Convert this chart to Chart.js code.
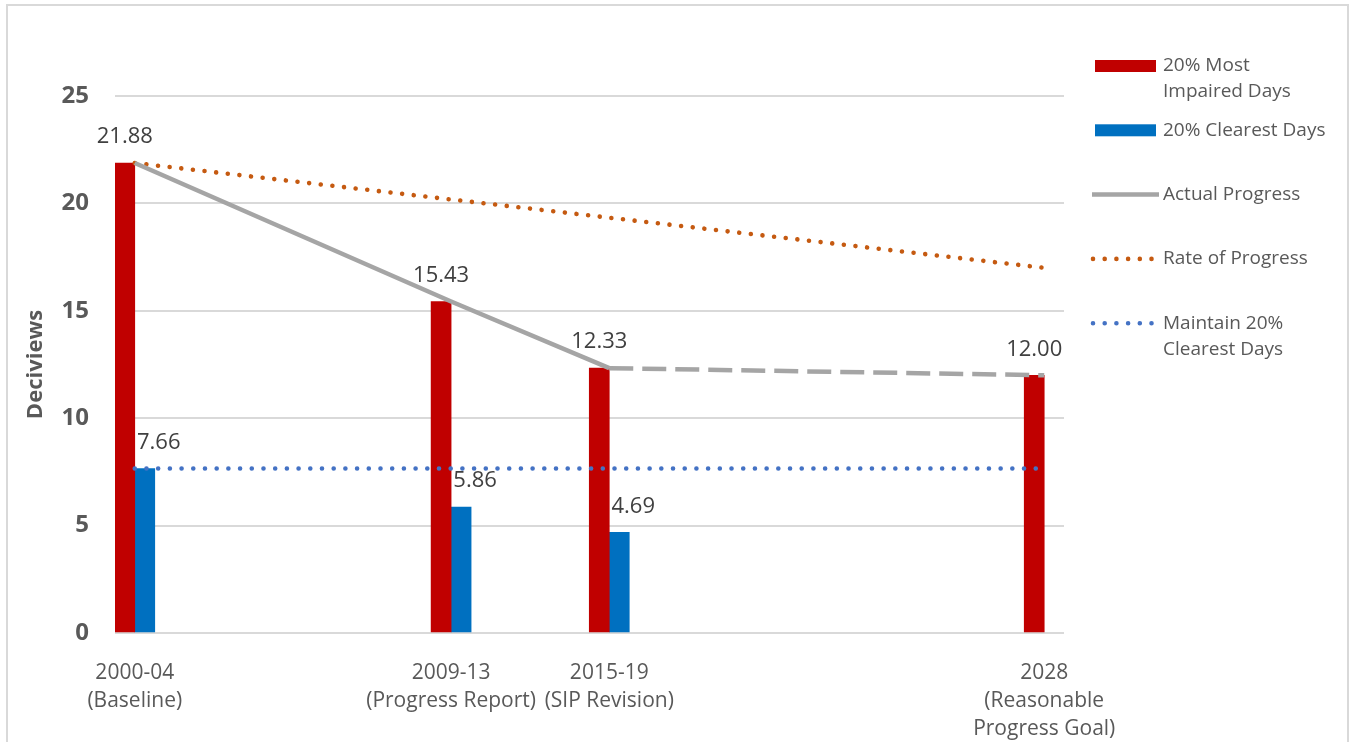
<!DOCTYPE html>
<html>
<head>
<meta charset="utf-8">
<title>Deciviews</title>
<script src="https://cdn.jsdelivr.net/npm/chart.js@4.4.1/dist/chart.umd.min.js"></script>
<style>
    html, body { margin: 0; padding: 0; background: #fff; overflow: hidden; }
    .frame {
        position: absolute;
        left: 6px; top: 4px;
        width: 1339px; height: 760px;
        border: 2px solid #d9d9d9;
        border-bottom: none;
    }
    #chart { position: absolute; left: 0; top: 0; }
</style>
</head>
<body>
<div class="frame"></div>
<canvas id="chart" width="1349" height="742"></canvas>
<script>
// periods on the date axis
const periodX = [2004, 2012, 2016, 2027]
const periodLabels = [
    ["2000-04", "(Baseline)"],
    ["2009-13", "(Progress Report)"],
    ["2015-19", "(SIP Revision)"],
    ["2028", "(Reasonable", "Progress Goal)"]
]

const mostImpaired = [21.88, 15.43, 12.33, 12.00]
const clearest = [7.66, 5.86, 4.69]
const actualProgress = [21.88, 15.43, 12.33, 12.00]

// glide path and clearest-days line run from baseline to 2028
const rateX = [2004, 2027]
const rateOfProgress = [21.88, 17.0]
const maintainClearest = [7.66, 7.66]

const yTicks = [0, 5, 10, 15, 20, 25]

const legendText = [
    ["20% Most", "Impaired Days"],
    ["20% Clearest Days"],
    ["Actual Progress"],
    ["Rate of Progress"],
    ["Maintain 20%", "Clearest Days"]
]

const FONT = "'Open Sans', sans-serif"
const TEXT = "#595959"

function points(xs, ys) {
    return ys.map((y, i) => ({ x: xs[i], y: y }))
}

// value labels above the bars
const valueLabels = {
    id: 'valueLabels',
    afterDatasetsDraw(chart) {
        const ctx = chart.ctx
        ctx.save()
        ctx.font = "22px " + FONT
        ctx.fillStyle = "#404040"
        ctx.textAlign = "center"
        ctx.textBaseline = "middle"
        chart.data.datasets.forEach((ds, i) => {
            if (ds.type !== 'bar') return
            const meta = chart.getDatasetMeta(i)
            meta.data.forEach((bar, j) => {
                const v = ds.data[j].y
                const cx = bar.x + (ds.labelShift || 0)
                ctx.fillText(v.toFixed(2), cx, bar.y - 26)
            })
        })
        ctx.restore()
    }
}

// legend on the right, one entry per dataset
const sideLegend = {
    id: 'sideLegend',
    afterDraw(chart) {
        const ctx = chart.ctx
        const x0 = 1092, textX = 1163, y0 = 66, step = 64.3, lineH = 26
        ctx.save()
        ctx.font = "19px " + FONT
        ctx.textBaseline = "middle"
        ctx.textAlign = "left"
        chart.data.datasets.forEach((ds, i) => {
            const cy = y0 + i * step
            if (ds.type === 'bar') {
                ctx.fillStyle = ds.backgroundColor
                ctx.fillRect(x0 + 3, cy - 6, 61, 12)
            } else {
                ctx.beginPath()
                ctx.strokeStyle = ds.borderColor
                ctx.lineWidth = ds.borderWidth
                if (ds.borderDash) {
                    ctx.setLineDash(ds.borderDash)
                    ctx.lineCap = "round"
                    ctx.moveTo(x0 + 1, cy)
                    ctx.lineTo(x0 + 64, cy)
                } else {
                    ctx.setLineDash([])
                    ctx.lineCap = "butt"
                    ctx.moveTo(x0, cy)
                    ctx.lineTo(x0 + 67, cy)
                }
                ctx.stroke()
            }
            ctx.fillStyle = TEXT
            legendText[i].forEach((t, k) => ctx.fillText(t, textX, cy + k * lineH))
        })
        ctx.restore()
    }
}

const dotted = [0.001, 11.7]

new Chart(document.getElementById("chart"), {
    type: 'bar',
    data: {
        datasets: [{
            type: 'bar',
            label: 'Most Impaired',
            data: points(periodX, mostImpaired),
            backgroundColor: '#C00000',
            barThickness: 20,
            order: 2
        }, {
            type: 'bar',
            label: 'Clearest',
            data: points(periodX, clearest),
            backgroundColor: '#0070C0',
            barThickness: 20,
            labelShift: 14,
            order: 2
        }, {
            type: 'line',
            label: 'Actual Progress',
            data: points(periodX, actualProgress),
            borderColor: '#A5A5A5',
            borderWidth: 4.5,
            pointRadius: 0,
            segment: {
                borderDash: ctx => ctx.p0DataIndex >= 2 ? [24, 9] : []
            },
            order: 1
        }, {
            type: 'line',
            label: 'Rate of Progress',
            data: points(rateX, rateOfProgress),
            borderColor: '#C55A11',
            borderWidth: 4.6,
            borderDash: dotted,
            borderCapStyle: 'round',
            pointRadius: 0,
            order: 1
        }, {
            type: 'line',
            label: 'Maintain Clearest',
            data: points(rateX, maintainClearest),
            borderColor: '#4472C4',
            borderWidth: 4.6,
            borderDash: dotted,
            borderCapStyle: 'round',
            pointRadius: 0,
            order: 1
        }]
    },
    options: {
        responsive: false,
        animation: false,
        layout: {
            padding: { left: 0, top: 96, right: 285, bottom: 0 }
        },
        plugins: {
            legend: { display: false },
            tooltip: { enabled: false }
        },
        scales: {
            x: {
                type: 'linear',
                min: 2003.5,
                max: 2027.5,
                offset: false,
                grid: { display: false },
                border: { display: false },
                afterBuildTicks: function(scale) {
                    scale.ticks = periodX.map(v => ({ value: v }))
                },
                afterFit: function(scale) {
                    scale.height = 109
                },
                ticks: {
                    autoSkip: false,
                    maxRotation: 0,
                    padding: 18,
                    color: TEXT,
                    font: { family: FONT, size: 21, lineHeight: 1.333 },
                    callback: function(value) {
                        const i = periodX.indexOf(value)
                        return i >= 0 ? periodLabels[i] : ''
                    }
                }
            },
            y: {
                min: 0,
                max: 25,
                grid: {
                    color: '#d9d9d9',
                    lineWidth: 2,
                    drawTicks: false
                },
                border: { display: false },
                afterBuildTicks: function(scale) {
                    scale.ticks = yTicks.map(v => ({ value: v }))
                },
                afterFit: function(scale) {
                    scale.width = 115
                },
                ticks: {
                    padding: 26,
                    color: TEXT,
                    font: { family: FONT, size: 24, weight: 'bold' }
                },
                title: {
                    display: true,
                    text: 'Deciviews',
                    color: TEXT,
                    padding: { top: 23, bottom: 0 },
                    font: { family: FONT, size: 22, weight: 'bold' }
                }
            }
        }
    },
    plugins: [valueLabels, sideLegend]
})
</script>
</body>
</html>
